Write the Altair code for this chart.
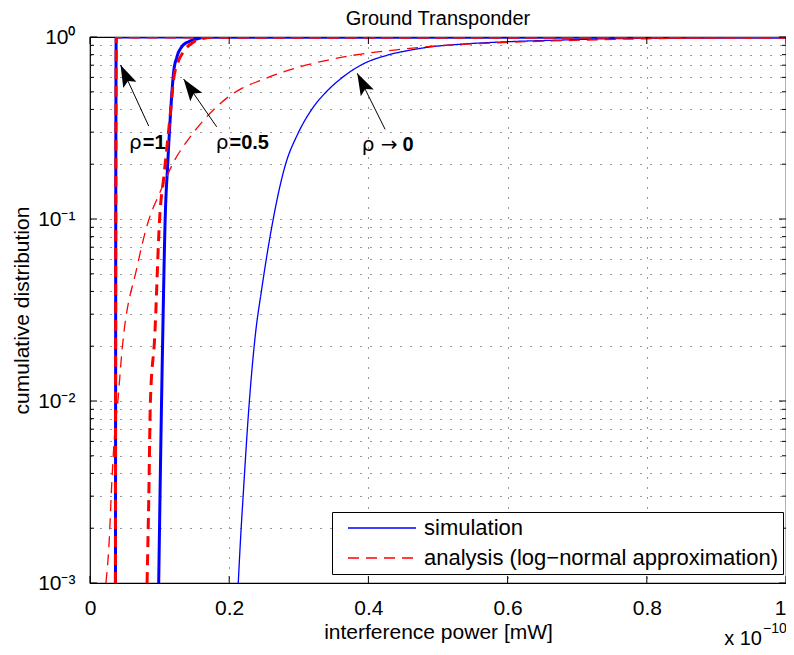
import altair as alt
import pandas as pd

W, H = 696, 546
FONT = "Liberation Sans"

SIM = "simulation"
ANA = "analysis (log\u2212normal approximation)"

# ---- curve data (x in units of 1e-10 mW, y = cumulative distribution) ----
r1_sim_x = [0.0366, 0.0368, 0.0370, 0.0373, 0.0376, 1.0]
r1_sim_y = [0.001, 0.01, 0.1, 0.5, 1.0, 1.0]

r1_ana_x = [0.0365, 0.0367, 0.0370, 0.0374, 0.0378, 0.0390, 1.0]
r1_ana_y = [0.001, 0.01, 0.1, 0.5, 0.98, 1.0, 1.0]

r05_sim_x = [0.0987, 0.1015, 0.1044, 0.108, 0.1116, 0.1163, 0.120, 0.125, 0.132, 0.1416, 0.153, 0.165, 0.180, 1.0]
r05_sim_y = [0.001, 0.005, 0.0216, 0.1, 0.198, 0.414, 0.632, 0.78, 0.885, 0.942, 0.975, 0.995, 1.0, 1.0]

r05_ana_x = [0.082, 0.0845, 0.0868, 0.093, 0.100, 0.1067, 0.1163, 0.120, 0.126, 0.134, 0.149, 0.162, 0.180, 1.0]
r05_ana_y = [0.001, 0.003, 0.01, 0.0226, 0.1, 0.179, 0.41, 0.58, 0.72, 0.827, 0.94, 0.98, 1.0, 1.0]

r0_sim_x = [0.213, 0.2165, 0.220, 0.229, 0.2378, 0.2465, 0.2608, 0.280, 0.299, 0.318, 0.342, 0.361,
            0.3896, 0.428, 0.461, 0.485, 0.537, 0.600, 0.680, 0.728, 0.800, 0.900, 1.0]
r0_sim_y = [0.001, 0.0018, 0.003, 0.01, 0.0235, 0.0407, 0.0889, 0.194, 0.296, 0.397, 0.511, 0.593,
            0.702, 0.796, 0.848, 0.878, 0.915, 0.942, 0.963, 0.975, 0.986, 0.994, 0.998]

r0_ana_x = [0.0229, 0.0272, 0.0315, 0.0358, 0.0401, 0.0458, 0.0677, 0.0844, 0.0987, 0.120, 0.144,
            0.168, 0.196, 0.218, 0.2465, 0.294, 0.342, 0.3896, 0.437, 0.485, 0.585, 0.680, 0.800, 1.0]
r0_ana_y = [0.001, 0.0016, 0.00368, 0.00693, 0.0101, 0.0186, 0.0547, 0.0988, 0.135, 0.205, 0.283,
            0.365, 0.46, 0.522, 0.58, 0.673, 0.747, 0.806, 0.848, 0.885, 0.930, 0.955, 0.978, 0.995]

curves = [
    ("rho1_sim", SIM, 3.0, r1_sim_x, r1_sim_y),
    ("rho05_sim", SIM, 3.0, r05_sim_x, r05_sim_y),
    ("rho0_sim", SIM, 1.3, r0_sim_x, r0_sim_y),
    ("rho1_ana", ANA, 3.0, r1_ana_x, r1_ana_y),
    ("rho05_ana", ANA, 3.0, r05_ana_x, r05_ana_y),
    ("rho0_ana", ANA, 1.3, r0_ana_x, r0_ana_y),
]
rows = []
for name, typ, sw, xs, ys in curves:
    for i, (x, y) in enumerate(zip(xs, ys)):
        rows.append({"curve": name, "type": typ, "sw": sw, "x": x, "y": y, "i": i})
df = pd.DataFrame(rows)

# ---- ticks / grid ----
x_ticks = [0, 0.2, 0.4, 0.6, 0.8, 1.0]
y_major = [0.001, 0.01, 0.1, 1.0]
y_minor = [m * 10.0 ** k for k in (-3, -2, -1) for m in range(2, 10)]
y_all = sorted(y_major + y_minor)
y_labels = {0.001: "10\u207b\u00b3", 0.01: "10\u207b\u00b2", 0.1: "10\u207b\u00b9", 1.0: "10\u2070"}

# ---- annotations ----
arrow_tip_x = [0.0439, 0.1345, 0.384]
arrow_tip_y = [0.702, 0.588, 0.632]
arrow_tail_x = [0.0844, 0.182, 0.424]
arrow_tail_y = [0.324, 0.321, 0.311]
arrow_angle = [335, 325, 333]

ann_plain_x = [0.0744, 0.199, 0.4420]
ann_bold_x = [0.0744, 0.199, 0.4475]
ann_y = [0.262, 0.262, 0.255]
ann_plain = ["\u03c1", "\u03c1", "\u03c1 \u2192"]
ann_bold = ["=1", "=0.5", "0"]

xscale = alt.Scale(domain=[0, 1], nice=False, zero=False)
yscale = alt.Scale(type="log", domain=[0.001, 1], nice=False)

label_expr = " : ".join(
    [f"abs(datum.value - {v}) < {v * 1e-6} ? '{t}'" for v, t in y_labels.items()]
) + " : ''"

color_scale = alt.Scale(domain=[SIM, ANA], range=["#0000ff", "#ff0000"])
dash_scale = alt.Scale(domain=[SIM, ANA], range=[[1, 0], [11, 7]])

legend = alt.Legend(
    title=None, orient="none", legendX=242, legendY=475,
    strokeColor="black", fillColor="white", padding=5,
    symbolType="M0,0 L8,0", symbolSize=289, symbolStrokeWidth=1.3,
    symbolFillColor="transparent",
    labelFontSize=22, labelFont=FONT, labelColor="black", labelOffset=65,
    rowPadding=8, labelLimit=700,
)

base = alt.Chart(df).mark_line(clip=True, interpolate="monotone").encode(
    x=alt.X("x:Q", scale=xscale,
            axis=alt.Axis(values=x_ticks, grid=True, gridDash=[1, 9], gridColor="black",
                          gridOpacity=0.8, ticks=False, domain=False, labelPadding=14,
                          labelFlush=False,
                          labelAlign={"condition": {"test": "datum.value == 1", "value": "right"},
                                      "value": "center"},
                          labelFontSize=21, labelFont=FONT, labelColor="black",
                          labelExpr="datum.value == 1 ? '1' : datum.value == 0 ? '0' : format(datum.value, '.1f')",
                          title="interference power [mW]", titleFontSize=21, titleFont=FONT,
                          titleFontWeight="normal", titleColor="black", titlePadding=3)),
    y=alt.Y("y:Q", scale=yscale,
            axis=alt.Axis(values=y_all, grid=True, gridDash=[1, 9], gridColor="black",
                          gridOpacity=0.8, ticks=False, domain=False, labelPadding=15,
                          labelFlush=False,
                          labelFontSize=21, labelFont=FONT, labelColor="black",
                          labelExpr=label_expr, labelOverlap=False,
                          title="cumulative distribution", titleFontSize=21, titleFont=FONT,
                          titleFontWeight="normal", titleColor="black", titlePadding=5)),
    color=alt.Color("type:N", scale=color_scale, legend=legend),
    strokeDash=alt.StrokeDash("type:N", scale=dash_scale, legend=legend),
    strokeWidth=alt.StrokeWidth("sw:Q", scale=None),
    detail="curve:N",
    order="i:Q",
)
blue = base.transform_filter(alt.datum.type == SIM)
red = base.transform_filter(alt.datum.type == ANA)

# inward ticks
xt = pd.DataFrame({"x": x_ticks})
ymaj = pd.DataFrame({"y": y_major})
ymin = pd.DataFrame({"y": y_minor})
tick_style = dict(color="black", strokeWidth=1)
tb = alt.Chart(xt).mark_rule(**tick_style).encode(x=alt.X("x:Q", scale=xscale), y=alt.value(H), y2=alt.value(H - 7))
tt = alt.Chart(xt).mark_rule(**tick_style).encode(x=alt.X("x:Q", scale=xscale), y=alt.value(0), y2=alt.value(7))
tl = alt.Chart(ymaj).mark_rule(**tick_style).encode(y=alt.Y("y:Q", scale=yscale), x=alt.value(0), x2=alt.value(7))
tr = alt.Chart(ymaj).mark_rule(**tick_style).encode(y=alt.Y("y:Q", scale=yscale), x=alt.value(W), x2=alt.value(W - 7))
tl2 = alt.Chart(ymin).mark_rule(**tick_style).encode(y=alt.Y("y:Q", scale=yscale), x=alt.value(0), x2=alt.value(4))
tr2 = alt.Chart(ymin).mark_rule(**tick_style).encode(y=alt.Y("y:Q", scale=yscale), x=alt.value(W), x2=alt.value(W - 4))

# arrows
adf = pd.DataFrame({"tx": arrow_tip_x, "ty": arrow_tip_y, "sx": arrow_tail_x,
                    "sy": arrow_tail_y, "ang": arrow_angle})
shaft = alt.Chart(adf).mark_rule(color="black", strokeWidth=1).encode(
    x=alt.X("sx:Q", scale=xscale), y=alt.Y("sy:Q", scale=yscale), x2="tx:Q", y2="ty:Q")
head = alt.Chart(adf).mark_point(
    shape="M0,0 L0.33,1 L0,0.8 L-0.33,1 Z", filled=True, color="black", opacity=1,
    size=1936, strokeWidth=0).encode(
    x=alt.X("tx:Q", scale=xscale), y=alt.Y("ty:Q", scale=yscale), angle=alt.Angle("ang:Q", scale=None))

tdf = pd.DataFrame({"px": ann_plain_x, "bx": ann_bold_x, "y": ann_y, "p": ann_plain, "b": ann_bold})
txt_plain = alt.Chart(tdf).mark_text(align="right", baseline="middle", fontSize=20, font="DejaVu Sans",
                                     color="black").encode(
    x=alt.X("px:Q", scale=xscale), y=alt.Y("y:Q", scale=yscale), text="p:N")
txt_bold = alt.Chart(tdf).mark_text(align="left", baseline="middle", fontSize=20, font=FONT,
                                    fontWeight="bold", color="black", dx=1).encode(
    x=alt.X("bx:Q", scale=xscale), y=alt.Y("y:Q", scale=yscale), text="b:N")

# axis multiplier "x 10^-10"
exp_base = alt.Chart(pd.DataFrame({"t": ["x 10"]})).mark_text(
    align="right", baseline="middle", fontSize=20, font=FONT, color="black").encode(
    x=alt.value(W - 24), y=alt.value(H + 56), text="t:N")
exp_sup = alt.Chart(pd.DataFrame({"t": ["\u221210"]})).mark_text(
    align="left", baseline="middle", fontSize=14, font=FONT, color="black").encode(
    x=alt.value(W - 23), y=alt.value(H + 46), text="t:N")

chart = alt.layer(
    blue, red, tb, tt, tl, tr, tl2, tr2, shaft, head, txt_plain, txt_bold, exp_base, exp_sup
).properties(
    width=W, height=H,
    title=alt.TitleParams("Ground Transponder", fontSize=20, font=FONT, fontWeight="normal",
                          color="black", anchor="middle", offset=-3),
    autosize=alt.AutoSizeParams(type="none"),
    padding={"left": 82, "top": 29, "right": 0, "bottom": 72},
).configure_view(stroke="black", strokeWidth=1.2)

chart.save("out.html", embed_options={"renderer": "svg", "actions": False})
